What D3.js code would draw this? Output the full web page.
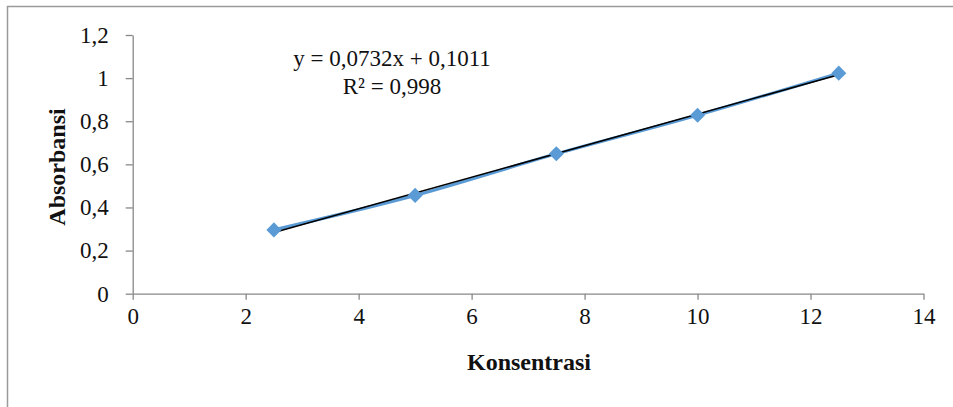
<!DOCTYPE html>
<html>
<head>
<meta charset="utf-8">
<script src="https://cdn.jsdelivr.net/npm/d3@7"></script>
<style>
  body { margin: 0; background: #fff; }
  svg text { font-family: "Liberation Serif", "DejaVu Serif", serif; fill: #111; }
</style>
</head>
<body>
<div id="chart"></div>
<script>
// data
const konsentrasi = [2.5, 5, 7.5, 10, 12.5];
const absorbansi = [0.296, 0.456, 0.649, 0.828, 1.023];
const slope = 0.0732, intercept = 0.1011;
const xTicks = [0, 2, 4, 6, 8, 10, 12, 14];
const yTicks = [0, 0.2, 0.4, 0.6, 0.8, 1, 1.2];

const width = 953, height = 407;

const svg = d3.select("#chart").append("svg")
    .attr("width", width)
    .attr("height", height);

// chart frame (only top and left edges show)
svg.append("path")
    .attr("d", `M7.5,${height} V6.5 H${width}`)
    .attr("fill", "none")
    .attr("stroke", "#9a9a9a")
    .attr("stroke-width", 1.5);

const x = d3.scaleLinear().domain([0, 14]).range([132.7, 923.5]);
const y = d3.scaleLinear().domain([0, 1.2]).range([293.7, 35]);

const fmt = d => d3.format("~g")(d).replace(".", ",");

// axes
const xAxis = svg.append("g")
    .attr("transform", `translate(0,${y(0)})`)
    .call(d3.axisBottom(x).tickValues(xTicks).tickFormat(fmt).tickSize(6).tickPadding(8).tickSizeOuter(0));
const yAxis = svg.append("g")
    .attr("transform", `translate(${x(0)},0)`)
    .call(d3.axisLeft(y).tickValues(yTicks).tickFormat(fmt).tickSize(7).tickPadding(17).tickSizeOuter(0));

[xAxis, yAxis].forEach(a => {
    a.select(".domain").attr("stroke", "#888").attr("stroke-width", 1.3);
    a.selectAll(".tick line").attr("stroke", "#888").attr("stroke-width", 1.3);
    a.selectAll("text").style("font-size", "23px").attr("fill", "#111");
});

// series line (smoothed, like Excel)
const pts = konsentrasi.map((k, i) => [k, absorbansi[i]]);
const line = d3.line()
    .x(d => x(d[0]))
    .y(d => y(d[1]))
    .curve(d3.curveCatmullRom.alpha(0.5));

svg.append("path")
    .datum(pts)
    .attr("d", line)
    .attr("fill", "none")
    .attr("stroke", "#5b9bd5")
    .attr("stroke-width", 3.2);

// linear trendline
svg.append("line")
    .attr("x1", x(konsentrasi[0]))
    .attr("y1", y(slope * konsentrasi[0] + intercept))
    .attr("x2", x(konsentrasi[konsentrasi.length - 1]))
    .attr("y2", y(slope * konsentrasi[konsentrasi.length - 1] + intercept))
    .attr("stroke", "#000")
    .attr("stroke-width", 1.6);

// diamond markers
svg.selectAll(".marker")
    .data(pts)
    .enter().append("path")
    .attr("class", "marker")
    .attr("transform", d => `translate(${x(d[0])},${y(d[1])})`)
    .attr("d", d3.symbol().type(d3.symbolDiamond2).size(145))
    .attr("fill", "#5b9bd5");

// equation label
svg.append("text")
    .attr("x", 392)
    .attr("y", 66)
    .attr("text-anchor", "middle")
    .style("font-size", "23px")
    .text("y = 0,0732x + 0,1011");
svg.append("text")
    .attr("x", 392)
    .attr("y", 94)
    .attr("text-anchor", "middle")
    .style("font-size", "23px")
    .text("R² = 0,998");

// axis titles
svg.append("text")
    .attr("x", 529)
    .attr("y", 370)
    .attr("text-anchor", "middle")
    .style("font-size", "24px")
    .style("font-weight", "bold")
    .text("Konsentrasi");

svg.append("text")
    .attr("transform", "translate(65,167) rotate(-90)")
    .attr("text-anchor", "middle")
    .style("font-size", "24px")
    .style("font-weight", "bold")
    .text("Absorbansi");
</script>
</body>
</html>
